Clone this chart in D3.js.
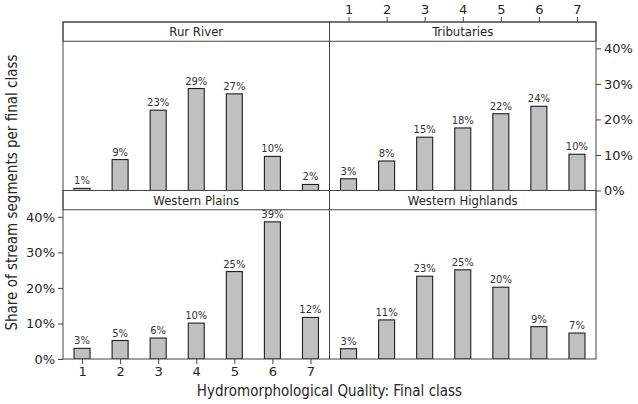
<!DOCTYPE html>
<html><head><meta charset="utf-8">
<script src="https://cdn.jsdelivr.net/npm/d3@7"></script>
<style>body{margin:0;background:#fff}svg{display:block}</style></head>
<body>
<script>
// ---- data ----
const classes = [1, 2, 3, 4, 5, 6, 7];
const panelNames = ["Rur River", "Tributaries", "Western Plains", "Western Highlands"];
const rurRiver = [0.6, 8.7, 22.6, 28.7, 27.2, 9.6, 1.7];
const tributaries = [3.3, 8.3, 15.0, 17.6, 21.6, 23.7, 10.2];
const westernPlains = [3.0, 5.2, 5.9, 10.1, 24.6, 38.6, 11.7];
const westernHighlands = [2.9, 11.0, 23.3, 25.1, 20.2, 9.1, 7.3];
const yTicks = [0, 10, 20, 30, 40];
const xLabel = "Hydromorphological Quality: Final class";
const yLabel = "Share of stream segments per final class";

const series = [rurRiver, tributaries, westernPlains, westernHighlands];

// ---- layout ----
const W = 638, H = 404;
const L = 63, R = 596, T = 22, B = 359;
const pw = (R - L) / 2;
const stripH = 19.25;
const cellH = (B - T) / 2;
const plotH = cellH - stripH;

const svg = d3.select("body").append("svg").attr("width", W).attr("height", H);

const x = d3.scaleLinear().domain([0.5, 7.5]).range([0, pw]);
const y = d3.scaleLinear().domain([0, 42]).range([plotH, 0]);
const barW = 16;
const font = "'DejaVu Sans', Verdana, sans-serif";
const fontC = "'DejaVu Sans Condensed', 'DejaVu Sans', sans-serif";
const ink = "#262626";

const defs = svg.append("defs");

series.forEach((vals, i) => {
  const col = i % 2, row = Math.floor(i / 2);
  const px = L + col * pw, py = T + row * cellH;
  const g = svg.append("g").attr("transform", `translate(${px},${py})`);

  defs.append("clipPath").attr("id", "clip" + i)
    .append("rect").attr("x", 0).attr("y", 0).attr("width", pw).attr("height", plotH);

  const plot = g.append("g").attr("transform", `translate(0,${stripH})`);
  const inner = plot.append("g").attr("clip-path", `url(#clip${i})`);

  inner.selectAll("rect.bar").data(vals).join("rect")
    .attr("class", "bar")
    .attr("x", (d, j) => x(classes[j]) - barW / 2)
    .attr("y", d => y(d))
    .attr("width", barW)
    .attr("height", d => y(0) - y(d))
    .attr("fill", "#c0c0c0")
    .attr("stroke", "#1e1e1e")
    .attr("stroke-width", 1.1);

  inner.selectAll("text.lab").data(vals).join("text")
    .attr("class", "lab")
    .attr("x", (d, j) => x(classes[j]))
    .attr("y", d => y(d) - 4)
    .attr("text-anchor", "middle")
    .attr("font-family", font)
    .attr("font-size", 10)
    .attr("fill", "#333")
    .text(d => Math.round(d) + "%");

  // strip
  g.append("rect").attr("x", 0).attr("y", 0).attr("width", pw).attr("height", stripH)
    .attr("fill", "#fff").attr("stroke", "#444").attr("stroke-width", 1);
  g.append("text").attr("x", pw / 2).attr("y", stripH / 2 + 4.5)
    .attr("text-anchor", "middle").attr("font-family", fontC).attr("font-size", 13)
    .attr("fill", ink).text(panelNames[i]);

  // panel frame
  g.append("rect").attr("x", 0).attr("y", 0).attr("width", pw).attr("height", cellH)
    .attr("fill", "none").attr("stroke", "#444").attr("stroke-width", 1);

  const styleAxis = a => {
    a.select(".domain").remove();
    a.selectAll("line").attr("stroke", "#444");
    a.selectAll("text").attr("font-family", font).attr("font-size", 13).attr("fill", ink);
  };

  if (i === 2) {
    plot.append("g").attr("transform", `translate(0,${plotH})`)
      .call(d3.axisBottom(x).tickValues(classes).tickSize(5).tickPadding(3).tickFormat(d3.format("d")))
      .call(styleAxis);
    plot.append("g")
      .call(d3.axisLeft(y).tickValues(yTicks).tickSize(5).tickPadding(3).tickFormat(d => d + "%"))
      .call(styleAxis);
  }
  if (i === 1) {
    g.append("g")
      .call(d3.axisTop(x).tickValues(classes).tickSize(5).tickPadding(3).tickFormat(d3.format("d")))
      .call(styleAxis);
    plot.append("g").attr("transform", `translate(${pw},0)`)
      .call(d3.axisRight(y).tickValues(yTicks).tickSize(5).tickPadding(3).tickFormat(d => d + "%"))
      .call(styleAxis);
  }
});

svg.append("text").attr("x", (L + R) / 2).attr("y", 396)
  .attr("text-anchor", "middle").attr("font-family", fontC).attr("font-size", 15)
  .attr("fill", ink).text(xLabel);

svg.append("text").attr("transform", `translate(17,${(T + B) / 2 + 2}) rotate(-90)`)
  .attr("text-anchor", "middle").attr("font-family", fontC).attr("font-size", 15)
  .attr("fill", ink).text(yLabel);
</script>
</body></html>
